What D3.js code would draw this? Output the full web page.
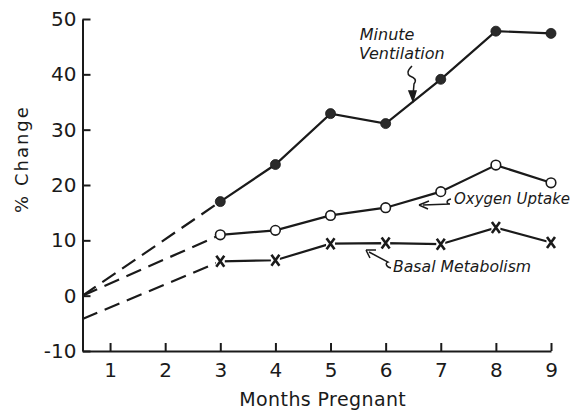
<!DOCTYPE html>
<html>
<head>
<meta charset="utf-8">
<script src="https://cdn.jsdelivr.net/npm/d3@7"></script>
<style>
  html, body { margin: 0; padding: 0; background: #fff; }
  svg { display: block; }
  text { font-family: "DejaVu Sans", sans-serif; fill: #1a1a1a; }
</style>
</head>
<body>
<svg id="chart" width="575" height="410"></svg>
<script>
// ---- Data ----
const months = [3, 4, 5, 6, 7, 8, 9];
const minuteVentilation = [17, 23.7, 32.9, 31.1, 39.1, 47.8, 47.4];
const oxygenUptake = [11, 11.8, 14.5, 15.9, 18.8, 23.6, 20.4];
const basalMetabolism = [6.2, 6.4, 9.4, 9.5, 9.3, 12.3, 9.6];
// extrapolated (dashed) starting values at the left edge of the axis
const startMonth = 0.5;
const ventilationStart = 0;
const oxygenStart = 0;
const basalStart = -4.2;

const xTicks = [1, 2, 3, 4, 5, 6, 7, 8, 9];
const yTicks = [-10, 0, 10, 20, 30, 40, 50];
const xDomain = [0.5, 9];
const yDomain = [-10, 50];

// annotation anchors in data units
const annotationLabels = [
  { lines: ["Minute", "Ventilation"], m: [5.53, 5.516], v: [46.2, 42.8], size: 16 },
  { lines: ["Oxygen Uptake"], m: [7.24], v: [16.57], size: 15 },
  { lines: ["Basal Metabolism"], m: [6.133], v: [4.28], size: 15.7 }
];
const arrowTips = [
  { name: "vent", m: 6.496, v: 35.36 },
  { name: "oxy", m: 6.605, v: 16.39 },
  { name: "basal", m: 5.643, v: 8.25 }
];

// ---- Chart ----
const ink = "#1a1a1a";
const svg = d3.select("#chart");
const x = d3.scaleLinear().domain(xDomain).range([82.5, 551]);
const y = d3.scaleLinear().domain(yDomain).range([351, 19]);

// axes
const yAxis = d3.axisLeft(y).tickValues(yTicks).tickFormat(d => String(d))
  .tickSizeInner(-8).tickSizeOuter(0).tickPadding(6);
const xAxis = d3.axisBottom(x).tickValues(xTicks).tickFormat(d => String(d))
  .tickSizeInner(-8).tickSizeOuter(0).tickPadding(11.5);

const gy = svg.append("g").attr("transform", `translate(${x(xDomain[0])},0)`).call(yAxis);
const gx = svg.append("g").attr("transform", `translate(0,${y(yDomain[0])})`).call(xAxis);
[gx, gy].forEach(g => {
  g.selectAll("path.domain").attr("stroke", ink).attr("stroke-width", 2);
  g.selectAll(".tick line").attr("stroke", ink).attr("stroke-width", 2);
  g.selectAll(".tick text").attr("font-size", 20).attr("fill", ink)
    .style("font-family", '"DejaVu Sans", sans-serif');
});

// axis titles
svg.append("text")
  .attr("x", (x(xDomain[0]) + x(xDomain[1])) / 2 + 6)
  .attr("y", 406)
  .attr("text-anchor", "middle")
  .attr("font-size", 19)
  .attr("letter-spacing", 0.4)
  .text("Months Pregnant");

svg.append("text")
  .attr("transform", `translate(28,${(y(yDomain[0]) + y(yDomain[1])) / 2 - 26}) rotate(-90)`)
  .attr("text-anchor", "middle")
  .attr("font-size", 18)
  .attr("letter-spacing", 2)
  .text("% Change");

// series
const series = [
  { vals: minuteVentilation, start: ventilationStart, marker: "filled" },
  { vals: oxygenUptake, start: oxygenStart, marker: "open" },
  { vals: basalMetabolism, start: basalStart, marker: "cross" }
];

const line = d3.line().x(d => x(d[0])).y(d => y(d[1]));

series.forEach(s => {
  const pts = months.map((m, i) => [m, s.vals[i]]);
  // dashed extrapolation
  svg.append("path")
    .attr("d", line([[startMonth, s.start], pts[0]]))
    .attr("fill", "none").attr("stroke", ink).attr("stroke-width", 2.2)
    .attr("stroke-dasharray", "16,8");
  // solid line
  svg.append("path")
    .attr("d", line(pts))
    .attr("fill", "none").attr("stroke", ink).attr("stroke-width", 2.2);
  // markers
  const g = svg.append("g");
  if (s.marker === "filled") {
    g.selectAll("circle").data(pts).join("circle")
      .attr("cx", d => x(d[0])).attr("cy", d => y(d[1])).attr("r", 5)
      .attr("fill", "#2a2a2a").attr("stroke", ink).attr("stroke-width", 0.8);
  } else if (s.marker === "open") {
    g.selectAll("circle").data(pts).join("circle")
      .attr("cx", d => x(d[0])).attr("cy", d => y(d[1])).attr("r", 4.8)
      .attr("fill", "#fff").attr("stroke", ink).attr("stroke-width", 1.6);
  } else {
    g.selectAll("rect").data(pts).join("rect")
      .attr("x", d => x(d[0]) - 4.5).attr("y", d => y(d[1]) - 6)
      .attr("width", 9).attr("height", 12).attr("fill", "#fff");
    g.selectAll("path").data(pts).join("path")
      .attr("d", d => {
        const cx = x(d[0]), cy = y(d[1]);
        return `M${cx - 4},${cy - 5.5}L${cx + 4},${cy + 5.5}M${cx + 4},${cy - 5.5}L${cx - 4},${cy + 5.5}`;
      })
      .attr("stroke", ink).attr("stroke-width", 2.6).attr("fill", "none");
  }
});

// annotation labels
annotationLabels.forEach(a => {
  a.lines.forEach((t, i) => {
    svg.append("text")
      .attr("x", x(a.m[i])).attr("y", y(a.v[i]))
      .attr("font-size", a.size).attr("font-style", "italic")
      .text(t);
  });
});

// annotation arrows (squiggle shapes relative to data-anchored tips)
const shapes = {
  vent: { path: "M-1,-34 C-6,-29 -6,-26 -3,-24 C2,-22 4,-20 1,-16 L0,-4",
          head: "M-4,-9 L0,1 L3,-9 Z" },
  oxy:  { path: "M32,-6 C27,-5 27,-1 31,-1 L4,0",
          head: "M0,0 L10,-4 M0,0 L9,4" },
  basal:{ path: "M25,18 C20,17 19,13 22,12 L3,2",
          head: "M0,0 L10,0 M0,0 L4,8" }
};
arrowTips.forEach(a => {
  const g = svg.append("g").attr("transform", `translate(${x(a.m)},${y(a.v)})`);
  g.append("path").attr("d", shapes[a.name].path)
    .attr("fill", "none").attr("stroke", ink).attr("stroke-width", 1.5);
  g.append("path").attr("d", shapes[a.name].head)
    .attr("fill", a.name === "vent" ? ink : "none").attr("stroke", ink).attr("stroke-width", 1.5);
});
</script>
</body>
</html>
